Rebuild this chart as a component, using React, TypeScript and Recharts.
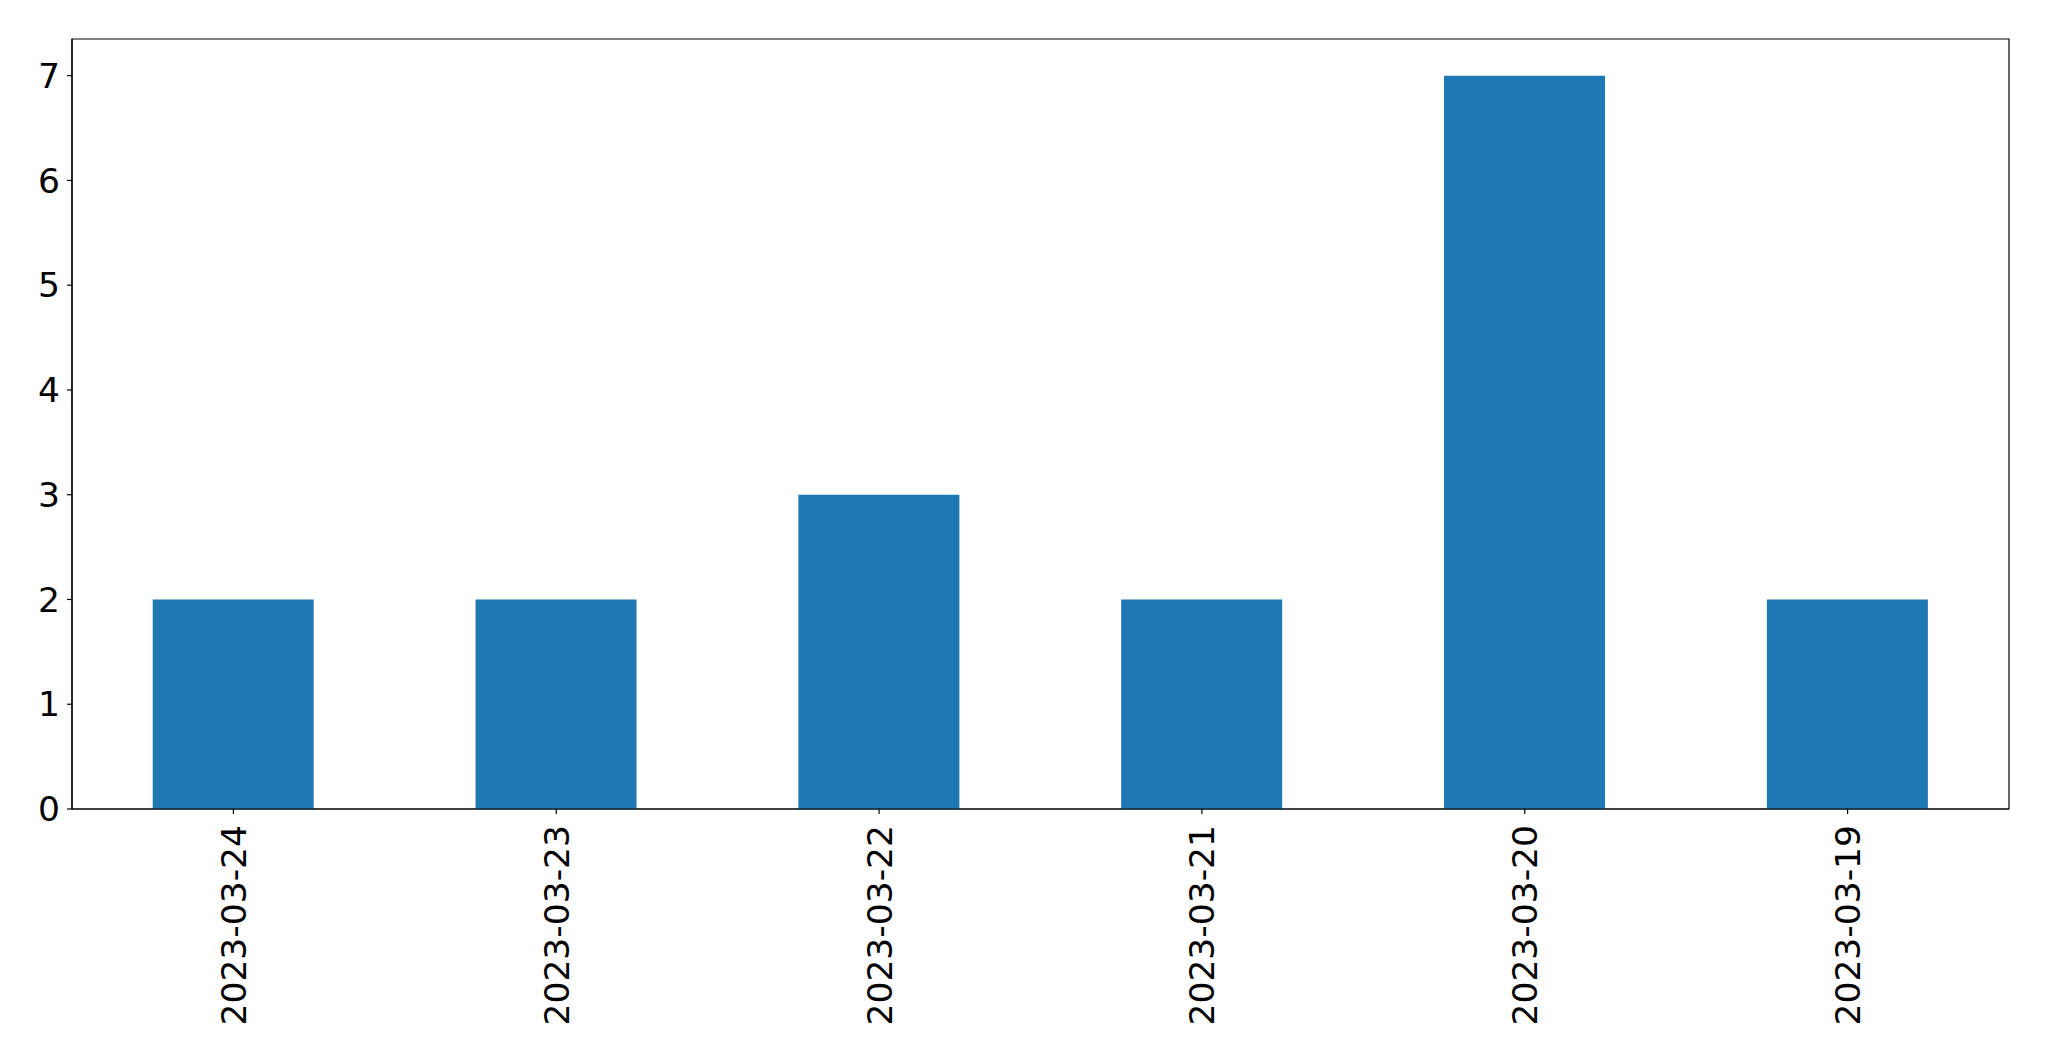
import { Bar, BarChart, ReferenceArea, XAxis, YAxis } from "recharts";

const dates = ["2023-03-24", "2023-03-23", "2023-03-22", "2023-03-21", "2023-03-20", "2023-03-19"];
const counts = [2, 2, 3, 2, 7, 2];
const yTicks = [0, 1, 2, 3, 4, 5, 6, 7];
const yMax = 7.35;

const data = dates.map((d, i) => ({ date: d, count: counts[i] }));

const font = "'DejaVu Sans', sans-serif";

const DateTick = (props: any) => {
    const { x, y, payload } = props;
    return (
        <g transform={`translate(${x},${y})`}>
            <text
                transform="rotate(-90)"
                x={-9}
                y={0}
                dy="0.36em"
                textAnchor="end"
                fill="#000"
                fontSize={34.5}
                fontFamily={font}
            >
                {payload.value}
            </text>
        </g>
    );
};

export default function App() {
    return (
        <div style={{ position: "absolute", left: 0, top: 0, width: 2049, height: 1061, background: "#fff" }}>
            <BarChart
                width={2049}
                height={1061}
                data={data}
                margin={{ top: 39, right: 40, bottom: 0, left: 0 }}
                barCategoryGap="25%"
            >
                <XAxis
                    dataKey="date"
                    height={252}
                    interval={0}
                    tick={<DateTick />}
                    tickSize={5}
                    tickMargin={2}
                    axisLine={{ stroke: "#000", strokeWidth: 1.2 }}
                    tickLine={{ stroke: "#000", strokeWidth: 1.2 }}
                />
                <YAxis
                    width={72}
                    domain={[0, yMax]}
                    ticks={yTicks}
                    interval={0}
                    tickSize={5}
                    tickMargin={7}
                    tick={{ fill: "#000", fontSize: 34.5, fontFamily: font }}
                    axisLine={{ stroke: "#000", strokeWidth: 1.2 }}
                    tickLine={{ stroke: "#000", strokeWidth: 1.2 }}
                />
                <Bar dataKey="count" fill="#1f77b4" isAnimationActive={false} />
                <ReferenceArea
                    y1={0}
                    y2={yMax}
                    fill="none"
                    fillOpacity={0}
                    stroke="#000"
                    strokeWidth={1.2}
                    ifOverflow="visible"
                />
            </BarChart>
        </div>
    );
}
